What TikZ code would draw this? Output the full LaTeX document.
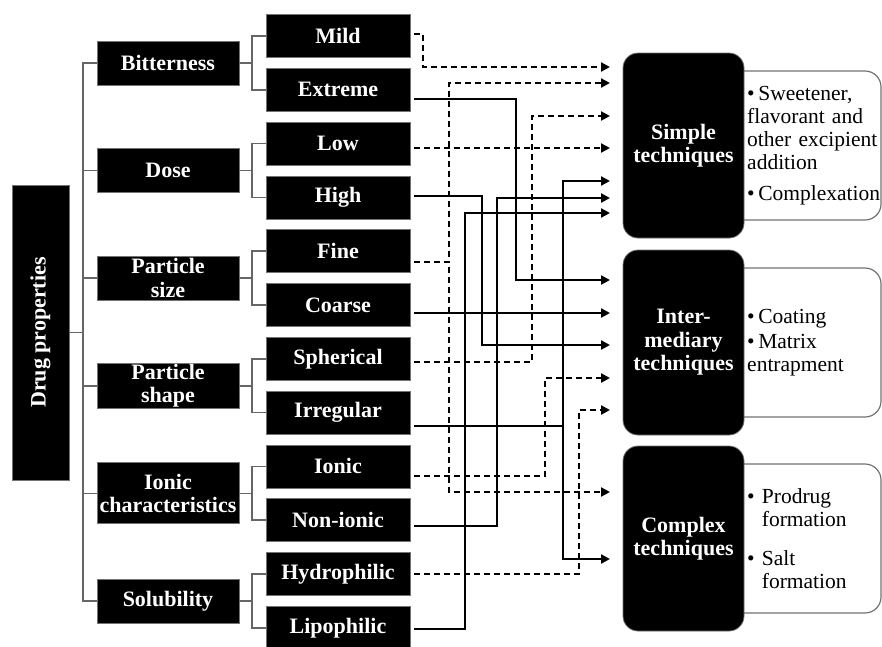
\documentclass[tikz,border=0pt]{standalone}
\usepackage{fontspec}
\setmainfont{Liberation Serif}
\usetikzlibrary{positioning,arrows.meta,backgrounds}

\begin{document}
\begin{tikzpicture}[
  x=1pt, y=1pt,
  node distance=10.8pt,
  blk/.style={fill=black, draw=black!55, line width=0.8pt, text=white,
              font=\fontsize{22}{23.5}\selectfont\bfseries, align=center,
              inner sep=1pt, outer sep=0pt},
  prop/.style={blk, minimum width=142pt, minimum height=44pt},
  leaf/.style={blk, minimum width=144pt, minimum height=43pt},
  tech/.style={blk, rounded corners=15pt, minimum width=121pt,
               minimum height=185pt},
  desc/.style={align=left, text width=134pt, inner sep=0pt,
               font=\fontsize{21.5}{23}\selectfont},
  frame/.style={draw=black!55, line width=1.2pt, rounded corners=16pt,
                fill=white},
  brline/.style={draw=black!60, line width=1.6pt},
  arr/.style={-{Triangle[length=9pt,width=9pt]}, line width=2.2pt,
              shorten >=13pt, shorten <=4pt},
  dsh/.style={dash pattern=on 6pt off 4pt},
  sol/.style={solid}
]
\path[use as bounding box] (0,0) rectangle (882,-646);

\node[blk, minimum width=57pt, minimum height=295pt] (drug) at (40.5,-332.5)
  {\rotatebox{90}{Drug properties}};

\node[leaf] (mild) at (338,-36) {Mild};
\node[leaf, below=of mild] (extreme) {Extreme};
\node[leaf, below=of extreme] (low) {Low};
\node[leaf, below=of low] (high) {High};
\node[leaf, below=of high] (fine) {Fine};
\node[leaf, below=of fine] (coarse) {Coarse};
\node[leaf, below=of coarse] (spher) {Spherical};
\node[leaf, below=of spher] (irreg) {Irregular};
\node[leaf, below=of irreg] (ionic) {Ionic};
\node[leaf, below=of ionic] (nonionic) {Non-ionic};
\node[leaf, below=of nonionic] (hydro) {Hydrophilic};
\node[leaf, below=of hydro] (lipo) {Lipophilic};

\node[prop] (bitter) at (168,-62.9) {Bitterness};
\node[prop] (dose) at (168,-170.5) {Dose};
\node[prop] (psize) at (168,-278.1) {Particle\\size};
\node[prop] (pshape) at (168,-385.7) {Particle\\shape};
\node[prop, minimum height=61pt] (ionchar) at (168,-493.3) {Ionic\\characteristics};
\node[prop] (solub) at (168,-600.9) {Solubility};

\foreach \p in {bitter,dose,psize,pshape,ionchar,solub}
  \draw[brline] (drug.east) -- ++(14,0) |- (\p.west);
\foreach \p/\a/\b in {bitter/mild/extreme, dose/low/high, psize/fine/coarse,
    pshape/spher/irreg, ionchar/ionic/nonionic, solub/hydro/lipo} {
  \draw[brline] (\p.east) -- ++(13,0) |- (\a.west);
  \draw[brline] (\p.east) -- ++(13,0) |- (\b.west);
}

\node[tech] (simple) at (683.5,-145.5) {Simple\\techniques};
\node[tech, below=12pt of simple] (inter) {Inter-\\mediary\\techniques};
\node[tech, below=11pt of inter] (complex) {Complex\\techniques};

\node[desc, right=3pt of simple] (simpletxt)
  {\textbullet\,Sweetener,\\flavorant and\\other excipient\\addition\\[8pt]\textbullet\,Complexation};
\node[desc, right=3pt of inter] (intertxt)
  {\textbullet\,Coating\\[2pt]\textbullet\,Matrix\\entrapment};
\node[desc, right=3pt of complex] (complextxt)
  {\textbullet\ Prodrug\\\phantom{\textbullet\ }formation\\[16pt]\textbullet\ Salt\\\phantom{\textbullet\ }formation};

\begin{scope}[on background layer]
\foreach \t in {simple,inter,complex}
  \draw[frame] ([xshift=-20pt,yshift=74.5pt]\t.east) rectangle ([xshift=137pt,yshift=-74.5pt]\t.east);
\end{scope}

\foreach \s/\sy/\dx/\t/\ty/\ls in {
    mild/2/13/simple/78.5/dsh,
    extreme/-9.2/106/inter/62.5/sol,
    low/-4.4/20/simple/-2.5/dsh,
    high/1.4/72/inter/-2.5/sol,
    fine/-10.8/39/simple/62.5/dsh,
    fine/-10.8/39/complex/46.5/dsh,
    coarse/-8/20/inter/29.5/sol,
    spher/-3.2/122/simple/29.5/dsh,
    irreg/-13.4/153/simple/-35.5/sol,
    irreg/-13.4/153/complex/-20.5/sol,
    ionic/-9.6/135/inter/-35.5/dsh,
    nonionic/-5.8/87/simple/-52.5/sol,
    hydro/0/169/inter/-67.5/dsh,
    lipo/-1.2/55/simple/-67.5/sol}
  \draw[arr,\ls] ([yshift=\sy pt]\s.east) -- ++(\dx,0) |- ([yshift=\ty pt]\t.west);
\end{tikzpicture}
\end{document}
